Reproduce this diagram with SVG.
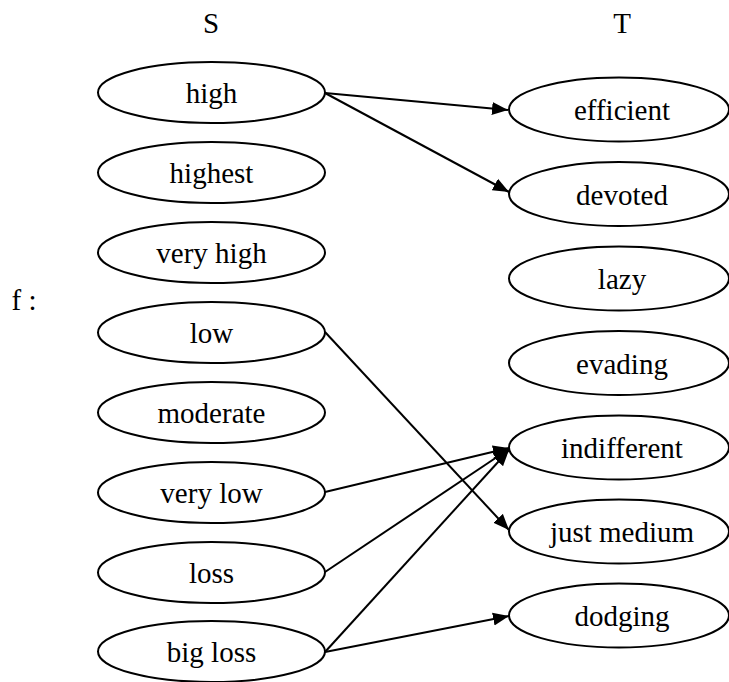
<svg xmlns="http://www.w3.org/2000/svg" width="729" height="682" viewBox="0 0 729 682">
<style>
.n ellipse{fill:#fff;stroke:#000;stroke-width:2}
text{font-family:"Liberation Serif","Times New Roman",serif;font-size:29px;fill:#000;text-anchor:middle}
.e line{stroke:#000;stroke-width:2}
</style>
<defs>
<marker id="ah" markerUnits="userSpaceOnUse" markerWidth="17" markerHeight="14" refX="16" refY="7" orient="auto">
<path d="M0,0.5 L16,7 L0,13.5 Z" fill="#000"/>
</marker>
</defs>
<text x="211" y="33">S</text>
<text x="622" y="33">T</text>
<text x="24" y="310">f :</text>
<g class="e">
<line x1="325" y1="93" x2="508" y2="110" marker-end="url(#ah)"/>
<line x1="325" y1="93" x2="509" y2="192" marker-end="url(#ah)"/>
<line x1="325" y1="332" x2="509" y2="530" marker-end="url(#ah)"/>
<line x1="325" y1="492" x2="509" y2="448" marker-end="url(#ah)"/>
<line x1="325" y1="572" x2="509" y2="449" marker-end="url(#ah)"/>
<line x1="325" y1="652" x2="509" y2="450" marker-end="url(#ah)"/>
<line x1="325" y1="652" x2="509" y2="616" marker-end="url(#ah)"/>
</g>
<g id="s_high" class="n"><ellipse cx="211.5" cy="92.5" rx="113.5" ry="30.5"/><text x="211.5" y="103">high</text></g>
<g id="s_highest" class="n"><ellipse cx="211.5" cy="172.5" rx="113.5" ry="30.5"/><text x="211.5" y="183">highest</text></g>
<g id="s_veryhigh" class="n"><ellipse cx="211.5" cy="252.5" rx="113.5" ry="30.5"/><text x="211.5" y="263">very high</text></g>
<g id="s_low" class="n"><ellipse cx="211.5" cy="332.5" rx="113.5" ry="30.5"/><text x="211.5" y="343">low</text></g>
<g id="s_moderate" class="n"><ellipse cx="211.5" cy="412.5" rx="113.5" ry="30.5"/><text x="211.5" y="423">moderate</text></g>
<g id="s_verylow" class="n"><ellipse cx="211.5" cy="492.5" rx="113.5" ry="30.5"/><text x="211.5" y="503">very low</text></g>
<g id="s_loss" class="n"><ellipse cx="211.5" cy="572.5" rx="113.5" ry="30.5"/><text x="211.5" y="583">loss</text></g>
<g id="s_bigloss" class="n"><ellipse cx="211.5" cy="651.5" rx="113.5" ry="30.5"/><text x="211.5" y="662">big loss</text></g>
<g id="t_efficient" class="n"><ellipse cx="619" cy="109.5" rx="110" ry="32"/><text x="622" y="120">efficient</text></g>
<g id="t_devoted" class="n"><ellipse cx="619" cy="194" rx="110" ry="32"/><text x="622" y="204.5">devoted</text></g>
<g id="t_lazy" class="n"><ellipse cx="619" cy="278.5" rx="110" ry="32"/><text x="622" y="289">lazy</text></g>
<g id="t_evading" class="n"><ellipse cx="619" cy="363" rx="110" ry="32"/><text x="622" y="373.5">evading</text></g>
<g id="t_indifferent" class="n"><ellipse cx="619" cy="447.5" rx="110" ry="32"/><text x="622" y="458">indifferent</text></g>
<g id="t_justmedium" class="n"><ellipse cx="619" cy="531.5" rx="110" ry="32"/><text x="622" y="542">just medium</text></g>
<g id="t_dodging" class="n"><ellipse cx="619" cy="615.5" rx="110" ry="32"/><text x="622" y="626">dodging</text></g>
</svg>
